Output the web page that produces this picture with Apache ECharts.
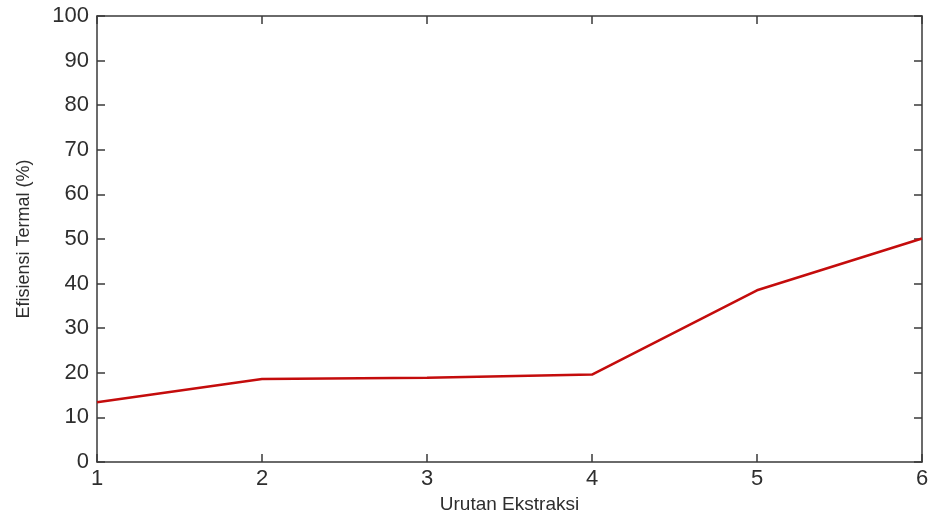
<!DOCTYPE html>
<html>
<head>
<meta charset="utf-8">
<script src="https://cdn.jsdelivr.net/npm/echarts@6/dist/echarts.min.js"></script>
<style>html,body{margin:0;padding:0;background:#fff}#c{width:932px;height:513px}</style>
</head>
<body>
<div id="c"></div>
<script>
const xValues = [1, 2, 3, 4, 5, 6];
const efficiency = [13.4, 18.6, 18.9, 19.6, 38.5, 50.1];
const xName = 'Urutan Ekstraksi';
const yName = 'Efisiensi Termal (%)';

const axisColor = '#3a3a3a';
const textColor = '#2e2e2e';
const font = 'Liberation Sans, Arial, sans-serif';

const chart = echarts.init(document.getElementById('c'));
const common = {
  axisLine: { show: true, onZero: false, lineStyle: { color: axisColor, width: 1.5 } },
  axisTick: { show: true, inside: true, length: 8, lineStyle: { color: axisColor, width: 1.5 } },
  splitLine: { show: false }
};
chart.setOption({
  animation: false,
  backgroundColor: '#ffffff',
  grid: { left: 97, right: 10, top: 16, bottom: 51, containLabel: false, outerBoundsMode: 'none' },
  xAxis: [
    Object.assign({
      type: 'value', min: 1, max: 6, interval: 1, position: 'bottom',
      name: xName, nameLocation: 'middle', nameGap: 32,
      nameTextStyle: { fontFamily: font, fontSize: 19, color: textColor },
      axisLabel: { fontFamily: font, fontSize: 22, color: textColor, margin: 6 }
    }, common),
    Object.assign({
      type: 'value', min: 1, max: 6, interval: 1, position: 'top',
      axisLabel: { show: false }
    }, common)
  ],
  yAxis: [
    Object.assign({
      type: 'value', min: 0, max: 100, interval: 10, position: 'left',
      name: yName, nameLocation: 'middle', nameGap: 64,
      nameTextStyle: { fontFamily: font, fontSize: 18, color: textColor },
      axisLabel: { fontFamily: font, fontSize: 22, color: textColor, margin: 8 }
    }, common),
    Object.assign({
      type: 'value', min: 0, max: 100, interval: 10, position: 'right',
      axisLabel: { show: false }
    }, common)
  ],
  series: [{
    type: 'line',
    xAxisIndex: 0, yAxisIndex: 0,
    data: xValues.map((x, i) => [x, efficiency[i]]),
    showSymbol: false,
    lineStyle: { color: '#c40c0c', width: 2.5 },
    itemStyle: { color: '#c40c0c' }
  }]
});
</script>
</body>
</html>
